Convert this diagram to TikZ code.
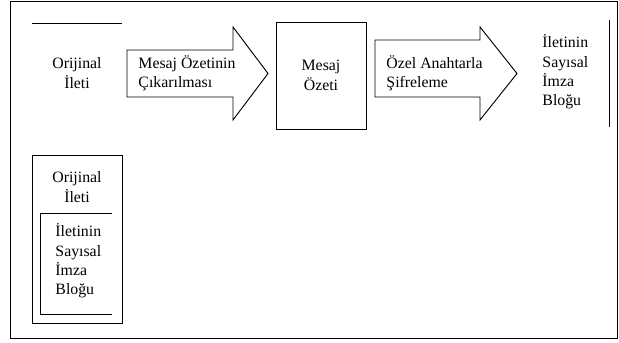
\documentclass[tikz,border=0pt]{standalone}
\usepackage{fontspec}
\setmainfont{Liberation Serif}
\usetikzlibrary{positioning}

\begin{document}
\begin{tikzpicture}[x=0.03cm,y=-0.03cm,line width=0.8pt,
    font=\fontsize{13.5}{16.5}\selectfont]
  \tikzstyle{lbl}=[inner sep=0pt,align=left,anchor=west]
  \tikzstyle{ctr}=[inner sep=0pt,align=center]
  \tikzstyle{block}=[draw,inner sep=0pt,align=center,minimum width=2.7cm]

  \useasboundingbox (0,0) rectangle (619,343);
  \draw (10,1) rectangle (617,338);

  % upper row
  \coordinate (bar_l) at (32,23);
  \coordinate (bar_r) at (122,23);
  \draw (bar_l) -- (bar_r);
  \node[ctr] (orig) at (77,73) {Orijinal\\İleti};

  \draw (127,50) -- (233,50) -- (233,27) -- (268,73.5) -- (233,120)
    -- (233,97) -- (127,97) -- cycle;
  \node[lbl] (hash) at (138,73) {Mesaj Özetinin\\Çıkarılması};

  \node[block,minimum height=3.21cm] (digest) at (321,75.5) {Mesaj\\Özeti};

  \draw (375,40) -- (480,40) -- (480,27) -- (517,73.5) -- (480,120)
    -- (480,97) -- (375,97) -- cycle;
  \node[lbl] (sign) at (386,73) {Özel Anahtarla\\Şifreleme};

  \node[lbl] (sig) at (542,72) {İletinin\\Sayısal\\İmza\\Bloğu};
  \coordinate (end_t) at (609,20);
  \coordinate (end_b) at (609,127);
  \draw (end_t) -- (end_b);

  % lower row
  \node[block,minimum height=5.04cm] (pack) at (77,239) {};
  \node[ctr] (orig2) at (77,187) {Orijinal\\İleti};
  \coordinate (in_tr) at (112,213);
  \coordinate (in_tl) at (40,213);
  \coordinate (in_bl) at (40,314);
  \coordinate (in_br) at (112,314);
  \draw (in_tr) -- (in_tl) -- (in_bl) -- (in_br);
  \node[lbl] (sig2) at (55,261) {İletinin\\Sayısal\\İmza\\Bloğu};
\end{tikzpicture}
\end{document}
